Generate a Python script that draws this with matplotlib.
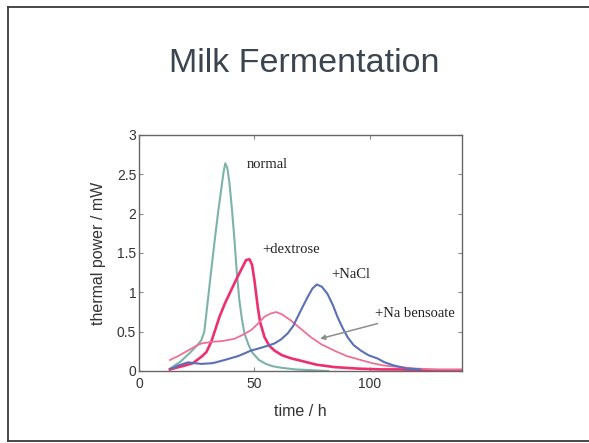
import matplotlib
matplotlib.use("Agg")
import matplotlib.pyplot as plt
from matplotlib.lines import Line2D

# ---- data ----
t_normal = [13.4, 18, 22, 25, 27, 28.3, 29.2, 31, 32.8, 34.3, 35.6, 36.6, 37.4, 38.3, 39.2, 40.3, 41.4, 42.4, 43.5, 44.6, 45.7, 47.5, 49.2, 52, 55, 58, 62, 68, 75, 82]
p_normal = [0.03, 0.12, 0.23, 0.32, 0.39, 0.50, 0.73, 1.20, 1.66, 2.02, 2.30, 2.52, 2.64, 2.58, 2.39, 2.05, 1.66, 1.25, 0.90, 0.66, 0.48, 0.33, 0.23, 0.14, 0.09, 0.06, 0.04, 0.02, 0.01, 0.0]

t_dex = [13.4, 16, 19.9, 23.4, 27, 29.2, 31.3, 33, 34.9, 37.1, 39.5, 42.1, 44.5, 46.4, 47.9, 49, 50, 51.5, 52.5, 54.4, 56.5, 58.7, 62, 66, 70.2, 77, 84.6, 95, 105, 113, 125, 140]
p_dex = [0.02, 0.04, 0.07, 0.10, 0.18, 0.24, 0.37, 0.52, 0.69, 0.85, 1.00, 1.16, 1.30, 1.41, 1.42, 1.35, 1.16, 0.81, 0.62, 0.43, 0.32, 0.26, 0.20, 0.16, 0.13, 0.08, 0.05, 0.03, 0.02, 0.02, 0.01, 0.01]

t_benz = [13.4, 17, 20, 24.2, 27, 31.4, 36, 41.4, 45, 48.6, 51.5, 54.4, 57, 59.4, 62, 65.9, 70, 74.5, 79, 84.6, 90, 96.1, 101, 106, 113, 120.6, 130, 140]
p_benz = [0.14, 0.19, 0.24, 0.31, 0.35, 0.37, 0.38, 0.41, 0.46, 0.52, 0.60, 0.69, 0.73, 0.75, 0.72, 0.64, 0.54, 0.43, 0.34, 0.26, 0.19, 0.14, 0.10, 0.07, 0.05, 0.03, 0.02, 0.02]

t_nacl = [14.1, 17, 21.3, 24, 27, 32, 37.1, 43, 48.6, 53.5, 58.7, 61.5, 64.5, 66.8, 68.8, 71, 73.1, 75.2, 77.1, 79.3, 81.7, 84, 86, 88.2, 90.4, 93, 96.1, 99.5, 103.3, 106.5, 110.5, 116.3, 122]
p_nacl = [0.03, 0.07, 0.11, 0.10, 0.09, 0.10, 0.14, 0.19, 0.26, 0.30, 0.35, 0.40, 0.48, 0.57, 0.69, 0.82, 0.94, 1.05, 1.10, 1.07, 0.98, 0.84, 0.69, 0.55, 0.43, 0.33, 0.26, 0.20, 0.16, 0.11, 0.07, 0.03, 0.02]

series_labels = ["normal", "+dextrose", "+NaCl", "+Na bensoate"]
x_ticks = [0, 50, 100]
y_ticks = [0, 0.5, 1, 1.5, 2, 2.5, 3]
y_tick_labels = ["0", "0.5", "1", "1.5", "2", "2.5", "3"]

# ---- figure ----
W, H = 589, 443
fig = plt.figure(figsize=(W / 100, H / 100), dpi=100)
fig.patch.set_facecolor("white")

# slide border
border = "#3a3a3a"
fig.add_artist(Line2D([8 / W, 8 / W], [1 - 7 / H, 1 - 441 / H], transform=fig.transFigure, color=border, lw=1.3))
fig.add_artist(Line2D([8 / W, 1.0], [1 - 7 / H, 1 - 7 / H], transform=fig.transFigure, color=border, lw=1.3))
fig.add_artist(Line2D([8 / W, 1.0], [1 - 441 / H, 1 - 441 / H], transform=fig.transFigure, color=border, lw=1.3))

fig.text(304 / W, 1 - 64 / H, "Milk Fermentation", ha="center", va="center",
         fontsize=24.5, color="#3b4550", family="Liberation Sans")

ax = fig.add_axes([139 / W, 1 - 371 / H, (462 - 139) / W, (371 - 135) / H])
ax.set_xlim(0, 140)
ax.set_ylim(0, 3)

ax.plot(t_normal, p_normal, color="#7db3ab", lw=1.5)
ax.plot(t_dex, p_dex, color="#ee2f6e", lw=1.9)
ax.plot(t_benz, p_benz, color="#ef7096", lw=1.3)
ax.plot(t_nacl, p_nacl, color="#5a6fb8", lw=1.5)

serif = ["Liberation Serif", "DejaVu Serif"]
fs = 10.5
ax.text(46.5, 2.62, series_labels[0], fontsize=fs, family=serif, color="#222222", va="center")
ax.text(53.5, 1.55, series_labels[1], fontsize=fs, family=serif, color="#222222", va="center")
ax.text(83.5, 1.23, series_labels[2], fontsize=fs, family=serif, color="#222222", va="center")
ax.annotate(series_labels[3], xy=(78.5, 0.41), xytext=(102.5, 0.73), fontsize=fs,
            family=serif, color="#222222", va="center",
            arrowprops=dict(arrowstyle="-|>", color="#8a8f8a", lw=1.1,
                            mutation_scale=7, shrinkA=2, shrinkB=0))

ax.set_xticks(x_ticks)
ax.set_yticks(y_ticks)
ax.set_yticklabels(y_tick_labels)
for lab in ax.get_xticklabels() + ax.get_yticklabels():
    lab.set_family("Liberation Sans")
    lab.set_fontsize(10)
    lab.set_color("#333333")
ax.tick_params(direction="in", length=3, width=0.8, color="#888888",
               top=True, right=True, pad=4)
ax.tick_params(axis="y", pad=2)
for s in ax.spines.values():
    s.set_color("#666666")
    s.set_linewidth(1.0)

ax.set_xlabel("time / h", fontsize=11.5, family="Liberation Sans", color="#333333", labelpad=10)
ax.set_ylabel("thermal power / mW", fontsize=11.5, family="Liberation Sans", color="#333333", labelpad=8)

fig.savefig("out.png", dpi=100, facecolor="white")
